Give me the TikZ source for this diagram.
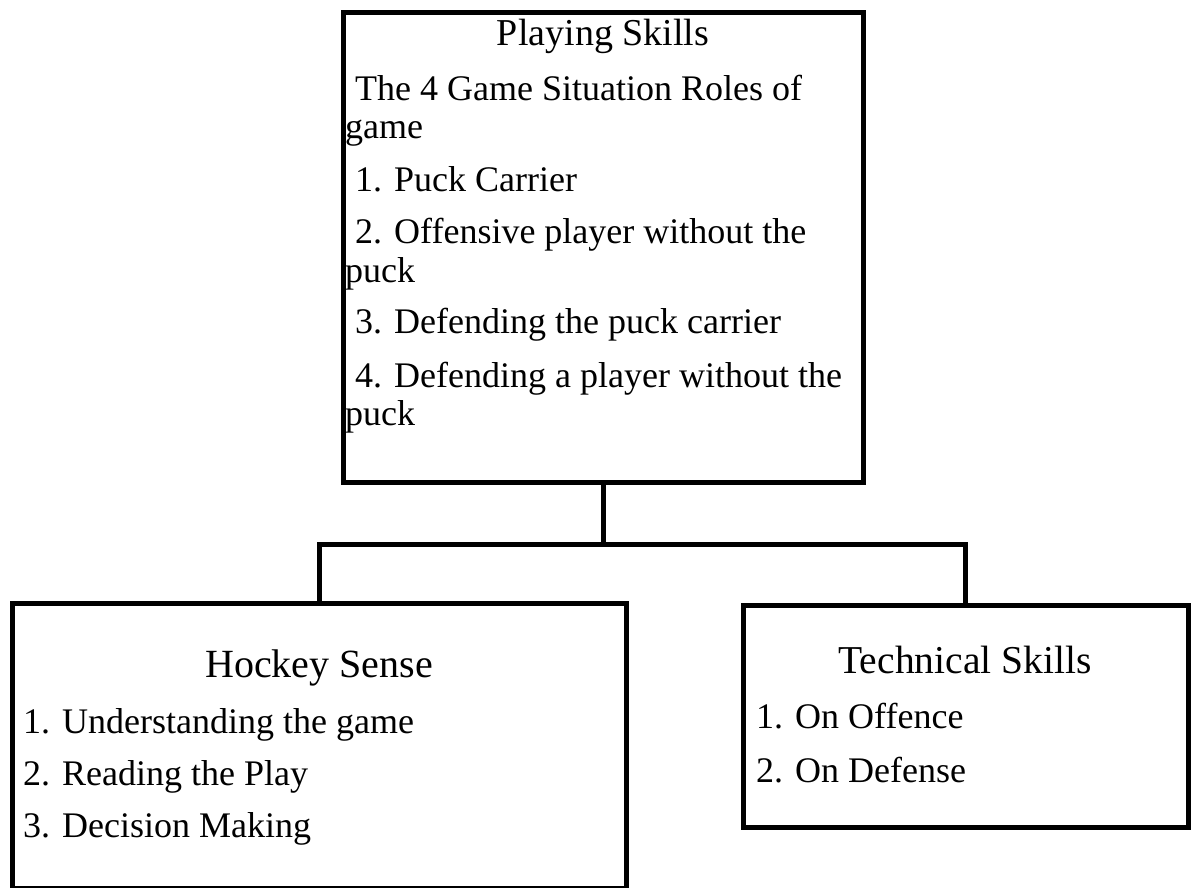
\documentclass[tikz,border=0pt]{standalone}
\usepackage{fontspec}
\setmainfont{Liberation Serif}
\begin{document}
\begin{tikzpicture}[x=1pt,y=-1pt,
  box/.style={draw=black,line width=5pt,fill=white,inner sep=0pt,outer sep=0pt},
  conn/.style={draw=black,line width=5pt},
  ttl/.style={anchor=base,inner sep=0pt,font=\fontsize{38}{42}\selectfont},
  itm/.style={anchor=base west,inner sep=0pt,font=\fontsize{36}{40}\selectfont}]
\useasboundingbox (0,0) rectangle (1195,887);
% boxes
\node[box,minimum width=520pt,minimum height=470pt] (ps) at (603,247) {};
\node[box,minimum width=614pt,minimum height=285pt] (hs) at (319,745.5) {};
\node[box,minimum width=445pt,minimum height=222pt] (ts) at (965.5,716) {};
% connectors
\coordinate (j) at (603,544);
\draw[conn] (ps.south) -- (j);
\draw[conn] (hs.north) |- (j) -| (ts.north);
% Playing Skills
\node[ttl] (pst) at (603,45) {Playing Skills};
\node[itm] (p1) at (355,100) {The 4 Game Situation Roles of};
\node[itm] (p1b) at (345,138) {game};
\node[itm] (p2) at (355,191) {1. Puck Carrier};
\node[itm] (p3) at (355,243) {2. Offensive player without the};
\node[itm] (p3b) at (345,282) {puck};
\node[itm] (p4) at (355,333) {3. Defending the puck carrier};
\node[itm] (p5) at (355,387) {4. Defending a player without the};
\node[itm] (p5b) at (345,425) {puck};
% Hockey Sense
\node[ttl,font=\fontsize{40}{44}\selectfont] (hst) at (319,677) {Hockey Sense};
\node[itm] (h1) at (23,733) {1. Understanding the game};
\node[itm] (h2) at (23,785) {2. Reading the Play};
\node[itm] (h3) at (23,837) {3. Decision Making};
% Technical Skills
\node[ttl,font=\fontsize{39.5}{44}\selectfont] (tst) at (965,673) {Technical Skills};
\node[itm] (t1) at (756,728) {1. On Offence};
\node[itm] (t2) at (756,782) {2. On Defense};
\end{tikzpicture}
\end{document}
